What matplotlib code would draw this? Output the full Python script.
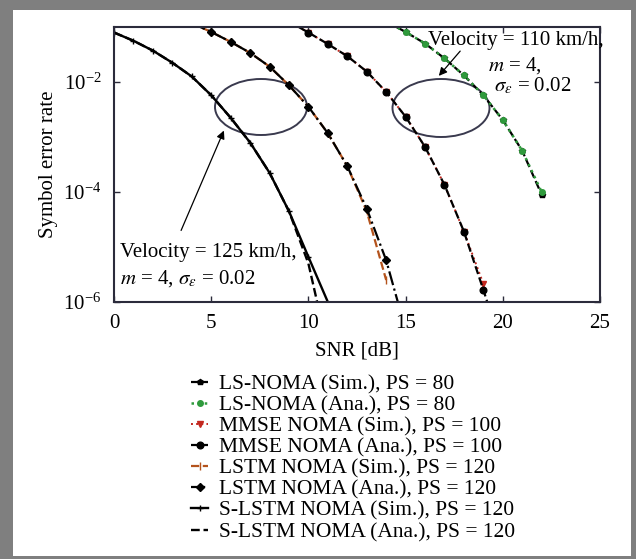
import numpy as np
import matplotlib
matplotlib.use('Agg')
import matplotlib.pyplot as plt
from matplotlib.patches import Rectangle, Ellipse

plt.rcParams['font.family'] = ['Liberation Serif', 'DejaVu Serif']
plt.rcParams['mathtext.fontset'] = 'stix'

# ---- data (SNR in dB, symbol error rate) ----
snr_ls = [14, 15, 16, 17, 18, 19, 20, 21, 22]
ser_ls_sim = [1.26e-1, 8.13e-2, 5.01e-2, 2.69e-2, 1.32e-2, 5.75e-3, 2.04e-3, 5.62e-4, 8.91e-5]
ser_ls_ana = [1.26e-1, 8.13e-2, 5.01e-2, 2.69e-2, 1.32e-2, 5.75e-3, 2.04e-3, 5.62e-4, 1.00e-4]

snr_mmse_sim = [9, 10, 11, 12, 13, 14, 15, 16, 17, 18, 19]
ser_mmse_sim = [1.26e-1, 7.94e-2, 4.90e-2, 2.95e-2, 1.55e-2, 6.61e-3, 2.34e-3,
                6.61e-4, 1.35e-4, 1.91e-5, 2.14e-6]
snr_mmse_ana = [9, 10, 11, 12, 13, 14, 15, 16, 17, 18, 19, 19.2]
ser_mmse_ana = [1.26e-1, 7.94e-2, 4.90e-2, 2.95e-2, 1.55e-2, 6.61e-3, 2.34e-3,
                6.61e-4, 1.35e-4, 1.91e-5, 1.66e-6, 1.0e-6]

snr_lstm_sim = [4, 5, 6, 7, 8, 9, 10, 11, 12, 13, 14]
ser_lstm_sim = [1.175e-1, 8.13e-2, 5.37e-2, 3.39e-2, 1.91e-2, 8.71e-3, 3.55e-3,
                1.17e-3, 2.95e-4, 4.47e-5, 2.51e-6]
snr_lstm_ana = [4, 5, 6, 7, 8, 9, 10, 11, 12, 13, 14, 14.6]
ser_lstm_ana = [1.175e-1, 8.13e-2, 5.37e-2, 3.39e-2, 1.91e-2, 8.71e-3, 3.55e-3,
                1.17e-3, 2.95e-4, 5.01e-5, 5.75e-6, 1.0e-6]

snr_slstm_sim = [0, 1, 2, 3, 4, 5, 6, 7, 8, 9, 10, 11]
ser_slstm_sim = [7.94e-2, 5.62e-2, 3.72e-2, 2.24e-2, 1.26e-2, 5.75e-3, 2.24e-3,
                 7.94e-4, 2.24e-4, 4.47e-5, 6.61e-6, 1.0e-6]
snr_slstm_ana = [0, 1, 2, 3, 4, 5, 6, 7, 8, 9, 10, 10.45]
ser_slstm_ana = [7.94e-2, 5.62e-2, 3.72e-2, 2.24e-2, 1.26e-2, 5.75e-3, 2.24e-3,
                 7.94e-4, 2.24e-4, 4.47e-5, 5.01e-6, 1.0e-6]

W, H = 636, 559
fig = plt.figure(figsize=(W / 100, H / 100), dpi=100, facecolor='#7f7f7f')
# white inner panel inside the grey frame
fig.patches.append(Rectangle((13 / W, 3 / H), (631 - 13) / W, (549 - 3) / H,
                             transform=fig.transFigure, facecolor='white',
                             edgecolor='none', zorder=-10))

ax = fig.add_axes([114 / W, 1 - 302 / H, 486 / W, 275 / H])
ax.set_zorder(1)

green = '#2f9a3c'
red = '#c3281f'
orange = '#b4531c'

h1, = ax.plot(snr_ls, ser_ls_sim, color='black', ls='--', lw=1.6,
              marker='p', ms=4, label='LS-NOMA (Sim.), PS = 80')
h2, = ax.plot(snr_ls, ser_ls_ana, color=green, ls=':', lw=1.8,
              marker='o', ms=4, label='LS-NOMA (Ana.), PS = 80')
h3, = ax.plot(snr_mmse_sim, ser_mmse_sim, color=red, ls=':', lw=1.4,
              marker='v', ms=4.5, label='MMSE NOMA (Sim.), PS = 100')
h4, = ax.plot(snr_mmse_ana, ser_mmse_ana, color='black', ls='--', lw=1.6,
              marker='o', ms=4.8, markevery=slice(0, 11), label='MMSE NOMA (Ana.), PS = 100')
h5, = ax.plot(snr_lstm_sim, ser_lstm_sim, color=orange, ls='--', lw=1.6,
              marker='|', ms=6, label='LSTM NOMA (Sim.), PS = 120')
h6, = ax.plot(snr_lstm_ana, ser_lstm_ana, color='black', ls='-.', lw=1.6,
              marker='D', ms=4.3, markevery=slice(0, 11), label='LSTM NOMA (Ana.), PS = 120')
h7, = ax.plot(snr_slstm_sim, ser_slstm_sim, color='black', ls='-', lw=1.7,
              marker='+', ms=5, markevery=slice(0, 11), label='S-LSTM NOMA (Sim.), PS = 120')
h8, = ax.plot(snr_slstm_ana, ser_slstm_ana, color='black', ls='--', lw=1.7,
              label='S-LSTM NOMA (Ana.), PS = 120')

ax.set_yscale('log')
ax.set_xlim(0, 25)
ax.set_ylim(1e-6, 1e-1)
ax.set_xticks([0, 5, 10, 15, 20, 25])
ax.set_yticks([1e-6, 1e-4, 1e-2])
ax.yaxis.set_minor_locator(matplotlib.ticker.NullLocator())
ax.tick_params(axis='both', which='major', direction='in', length=4, width=1,
               top=True, right=True, labelsize=15, color='#2b2b3b', pad=9)
for s in ax.spines.values():
    s.set_color('#2b2b3b')
    s.set_linewidth(1.5)

ax.set_xlabel('SNR [dB]', fontsize=15, labelpad=6)
ax.set_ylabel('Symbol error rate', fontsize=15, labelpad=4)

# ellipses marking the two velocity groups (axes fraction coordinates)
ecol = '#3a3a4e'
ax.add_patch(Ellipse(((261 - 114) / 486, 1 - (107 - 27) / 275), 92 / 486, 56 / 275,
                     transform=ax.transAxes, fill=False, edgecolor=ecol, lw=1.4))
ax.add_patch(Ellipse(((441 - 114) / 486, 1 - (108 - 27) / 275), 97 / 486, 58 / 275,
                     transform=ax.transAxes, fill=False, edgecolor=ecol, lw=1.4))

# annotations
ax.annotate('', xy=((225 - 114) / 486, 1 - (128 - 27) / 275), xycoords='axes fraction',
            xytext=((180 - 114) / 486, 1 - (233 - 27) / 275), textcoords='axes fraction',
            arrowprops=dict(arrowstyle='-|>', color='black', lw=0.9, mutation_scale=12))
ax.text((120 - 114) / 486, 1 - (253 - 27) / 275, 'Velocity = 125 km/h,',
        transform=ax.transAxes, fontsize=15, va='center', ha='left')
ax.text((120 - 114) / 486, 1 - (279 - 27) / 275, r'$m$ = 4, $\sigma_\varepsilon$ = 0.02',
        transform=ax.transAxes, fontsize=15, va='center', ha='left')

ax.annotate('', xy=((437 - 114) / 486, 1 - (78 - 27) / 275), xycoords='axes fraction',
            xytext=((462 - 114) / 486, 1 - (49 - 27) / 275), textcoords='axes fraction',
            arrowprops=dict(arrowstyle='-|>', color='black', lw=0.9, mutation_scale=12))
ax.text((428 - 114) / 486, 1 - (40 - 27) / 275, 'Velocity = 110 km/h,',
        transform=ax.transAxes, fontsize=15, va='center', ha='left')
ax.text((488 - 114) / 486, 1 - (66 - 27) / 275, r'$m$ = 4,',
        transform=ax.transAxes, fontsize=15, va='center', ha='left')
ax.text((494 - 114) / 486, 1 - (86 - 27) / 275, r'$\sigma_\varepsilon$ = 0.02',
        transform=ax.transAxes, fontsize=15, va='center', ha='left')

fig.legend(handles=[h1, h2, h3, h4, h5, h6, h7, h8], loc='upper left',
           bbox_to_anchor=(191 / W, 1 - 374 / H), frameon=False, fontsize=15.5,
           handlelength=0.8, handletextpad=0.5, labelspacing=0.05,
           borderpad=0, borderaxespad=0)

fig.savefig('out.png', dpi=100, facecolor=fig.get_facecolor())
